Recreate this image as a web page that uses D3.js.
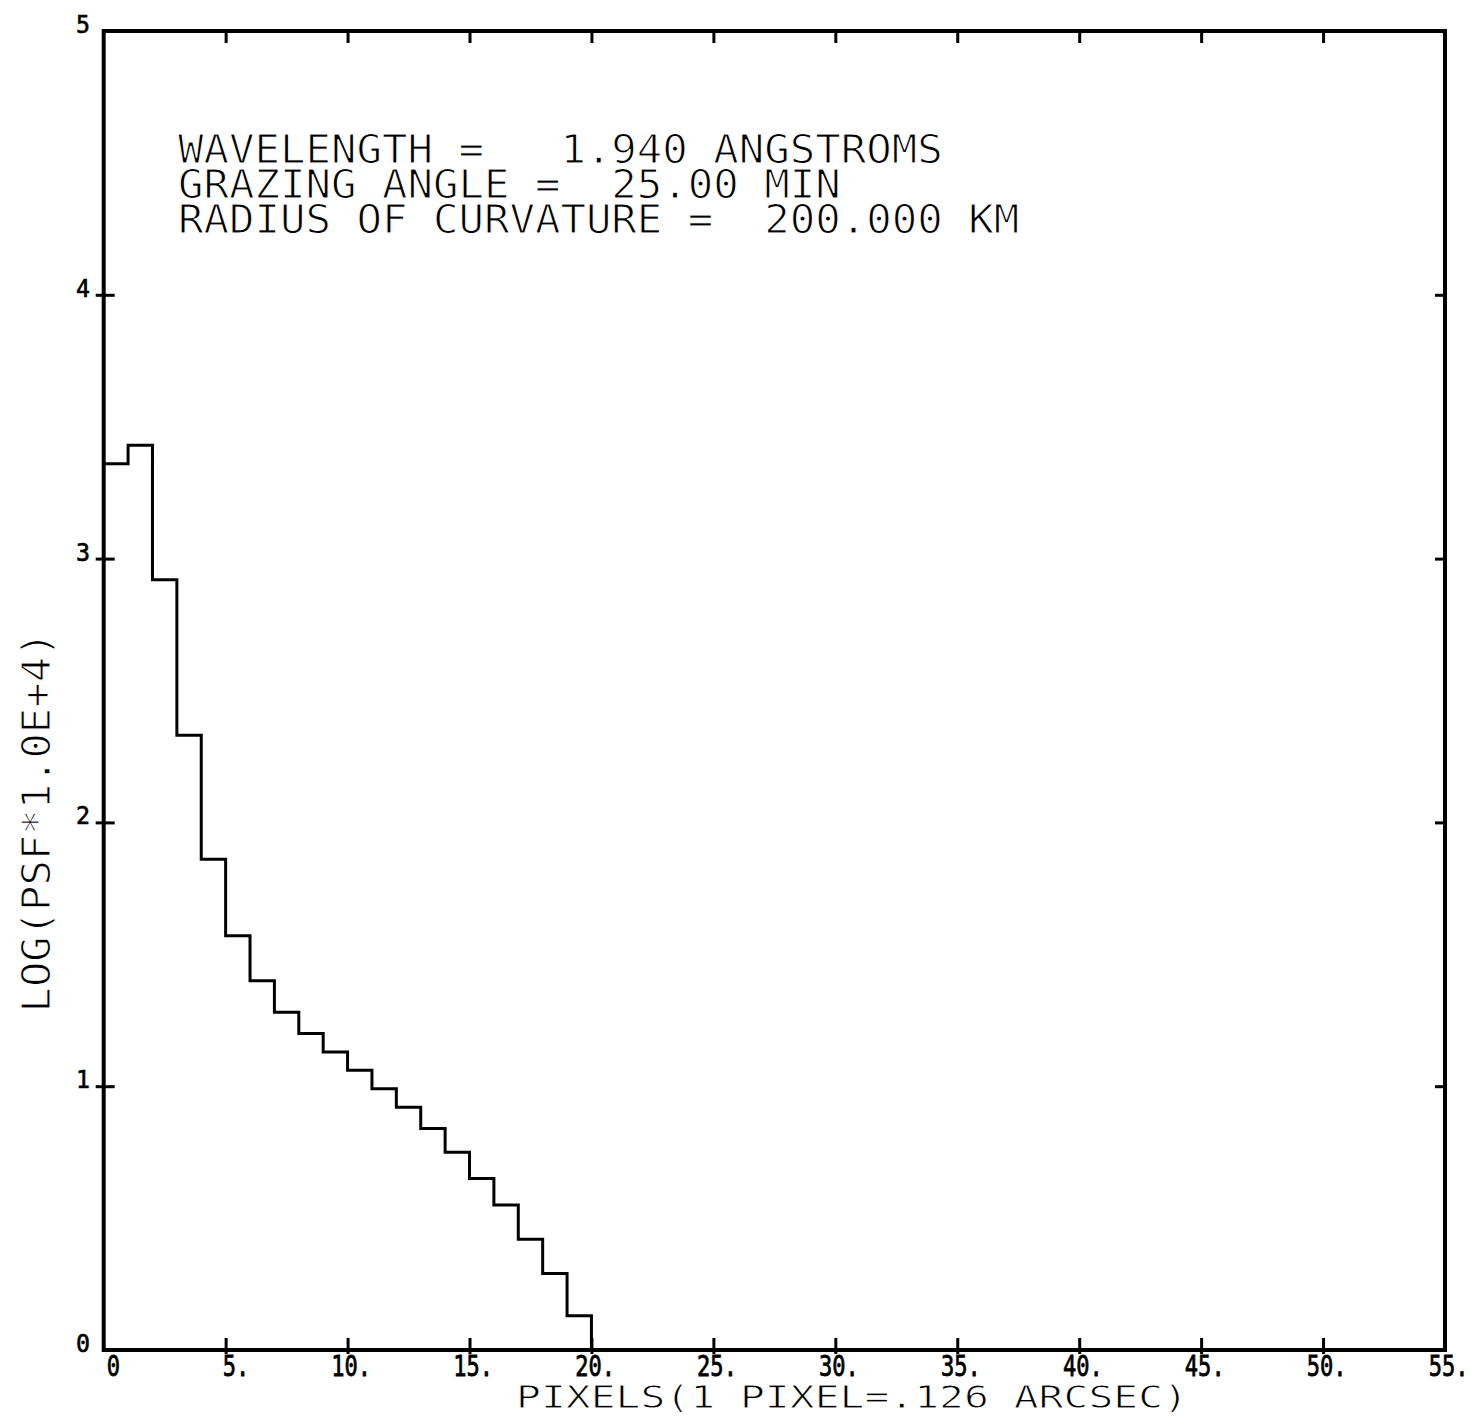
<!DOCTYPE html>
<html>
<head>
<meta charset="utf-8">
<script src="https://cdn.jsdelivr.net/npm/d3@7"></script>
<style>
  html, body { margin: 0; padding: 0; background: #fff; }
  svg { display: block; }
  text { font-family: "DejaVu Sans Mono", "Liberation Mono", monospace; fill: #000; white-space: pre; }
  text.thin { stroke: #fff; stroke-width: 1.2px; }
  text.bold { stroke: #000; stroke-width: 0.6px; }
</style>
</head>
<body>
<svg id="chart" width="1482" height="1418"></svg>
<script>
// Radial PSF profile, one value per detector pixel (bin starts)
const pixelBins = [0, 1, 2, 3, 4, 5, 6, 7, 8, 9, 10, 11, 12, 13, 14, 15, 16, 17, 18, 19];
const logPsf = [3.36, 3.43, 2.92, 2.33, 1.86, 1.57, 1.40, 1.28, 1.20, 1.13,
                1.06, 0.99, 0.92, 0.84, 0.75, 0.65, 0.55, 0.42, 0.29, 0.13];

const xTicks = [0, 5, 10, 15, 20, 25, 30, 35, 40, 45, 50, 55];
const xTickLabels = ["0", "5.", "10.", "15.", "20.", "25.", "30.", "35.", "40.", "45.", "50.", "55."];
const yTicks = [0, 1, 2, 3, 4, 5];
const yTickLabels = ["0", "1", "2", "3", "4", "5"];

const infoLines = [
  "WAVELENGTH =   1.940 ANGSTROMS",
  "GRAZING ANGLE =  25.00 MIN",
  "RADIUS OF CURVATURE =  200.000 KM"
];
const xTitle = "PIXELS(1 PIXEL=.126 ARCSEC)";
const yTitle = "LOG(PSF*1.0E+4)";

const svg = d3.select("#chart");
const x = d3.scaleLinear().domain([0, 55]).range([103.7, 1445]);
const y = d3.scaleLinear().domain([0, 5]).range([1350, 31]);

// Plotter-style lettering: monospace glyphs sized by character pitch,
// stretched vertically to the wanted cap height.
const ADV = 0.602, CAP = 0.729;
function plotText(parent, str, px, py, pitch, capH, cls, rotate) {
  const fs = pitch / ADV;
  const sy = capH / (fs * CAP);
  return parent.append("text")
    .attr("class", cls)
    .attr("transform", `translate(${px},${py})${rotate ? " rotate(-90)" : ""} scale(1,${sy.toFixed(3)})`)
    .attr("font-size", fs.toFixed(2))
    .text(str);
}

// Frame
svg.append("rect")
  .attr("x", x(0)).attr("y", y(5))
  .attr("width", x(55) - x(0)).attr("height", y(0) - y(5))
  .attr("fill", "none").attr("stroke", "#000").attr("stroke-width", 4);

function styleTicks(g) {
  g.select(".domain").remove();
  g.selectAll(".tick line").attr("stroke", "#000").attr("stroke-width", 3);
}

// Top ticks (pointing down)
svg.append("g").attr("transform", `translate(0,${y(5)})`)
  .call(d3.axisBottom(x).tickValues(xTicks.slice(1, -1)).tickSize(12).tickFormat(""))
  .call(styleTicks);

// Bottom ticks (pointing up, small overhang below)
svg.append("g").attr("transform", `translate(0,${y(0)})`)
  .call(d3.axisTop(x).tickValues(xTicks.slice(1, -1)).tickSize(12).tickFormat(""))
  .call(styleTicks)
  .selectAll(".tick line").attr("y1", 4);

// Left ticks (crossing the axis)
svg.append("g").attr("transform", `translate(${x(0)},0)`)
  .call(d3.axisRight(y).tickValues(yTicks.slice(1, -1)).tickSize(11).tickFormat(""))
  .call(styleTicks)
  .selectAll(".tick line").attr("x1", -8);

// Right ticks (pointing in)
svg.append("g").attr("transform", `translate(${x(55)},0)`)
  .call(d3.axisLeft(y).tickValues(yTicks.slice(1, -1)).tickSize(10).tickFormat(""))
  .call(styleTicks);

// X tick labels
const xPitch = 13.3;
const gx = svg.append("g");
xTicks.forEach((d, i) => {
  const lab = xTickLabels[i];
  const digits = lab.replace(".", "").length;
  const px = d === 0 ? x(d) + 3 : x(d) - (digits - 1) * xPitch - 3;
  plotText(gx, lab, px, 1376, xPitch, 21, "bold");
});

// Y tick labels
const gy = svg.append("g");
yTicks.forEach((d, i) => {
  plotText(gy, yTickLabels[i], 76, y(d) + 2, 14, 18, "bold");
});

// Stepped profile
const pts = pixelBins.map((p, i) => [p, logPsf[i]]);
const lastEdge = pixelBins[pixelBins.length - 1] + 1;
pts.push([lastEdge, logPsf[logPsf.length - 1]]);
pts.push([lastEdge, 0]);
svg.append("path")
  .datum(pts)
  .attr("fill", "none")
  .attr("stroke", "#000")
  .attr("stroke-width", 3)
  .attr("d", d3.line().x(d => x(d[0])).y(d => y(d[1])).curve(d3.curveStepAfter));

// Run parameters
const gi = svg.append("g");
infoLines.forEach((s, i) => plotText(gi, s, 178, 163 + i * 35, 25.5, 28, "thin"));

// Axis titles
plotText(svg, xTitle, 516, 1408, 24.9, 23, "thin");
plotText(svg, yTitle, 50, 822 + yTitle.length * 25.4 / 2, 25.4, 28, "thin", true);
</script>
</body>
</html>
